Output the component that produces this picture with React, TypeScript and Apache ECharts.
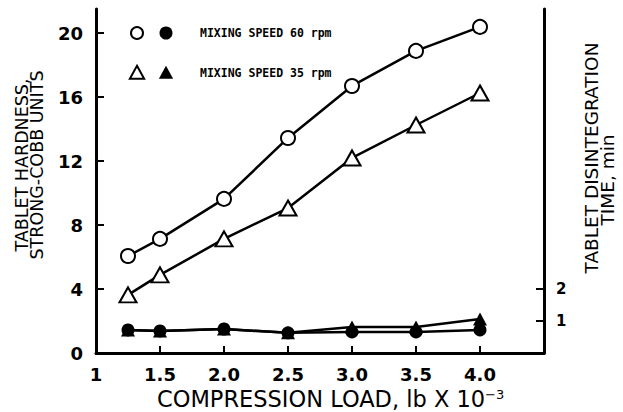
import React, { useEffect, useRef } from "react";
import * as echarts from "echarts";

const loads = [1.25, 1.5, 2.0, 2.5, 3.0, 3.5, 4.0];
const hardness60 = [6.06, 7.13, 9.63, 13.44, 16.69, 18.88, 20.38];
const hardness35 = [3.63, 4.88, 7.13, 9.06, 12.19, 14.25, 16.25];
const disint60 = [0.72, 0.69, 0.75, 0.63, 0.66, 0.66, 0.72];
const disint35 = [0.72, 0.69, 0.75, 0.63, 0.81, 0.81, 1.06];
const xLabelValues = [1, 1.5, 2.0, 2.5, 3.0, 3.5, 4.0];
const xTickValues = [1.5, 2.0, 2.5, 3.0, 3.5, 4.0];
const leftLabelValues = [0, 4, 8, 12, 16, 20];
const leftTickValues = [4, 8, 12, 16, 20];
const rightValues = [1, 2];

const pair = (xs: number[], ys: number[]) => xs.map((x, i) => [x, ys[i]]);

export default function App() {
  const ref = useRef<HTMLDivElement>(null);
  useEffect(() => {
    if (!ref.current) return;
    const chart = echarts.init(ref.current, null, { renderer: "svg" });
    const tickFont = {
      fontFamily: "DejaVu Sans",
      fontWeight: "bold" as const,
      fontSize: 18,
      color: "#000",
    };
    const leftTitleFont = "17.5px 'DejaVu Sans'";
    const rightTitleFont = "18.5px 'DejaVu Sans'";
    const legendFont = "bold 11.5px 'DejaVu Sans Mono'";
    const tri = (cx: number, cy: number, s: number) => [
      [cx, cy - s * 0.55],
      [cx + s * 0.55, cy + s * 0.45],
      [cx - s * 0.55, cy + s * 0.45],
    ];
    chart.setOption({
      animation: false,
      backgroundColor: "#fff",
      grid: {
        left: 96,
        right: 79,
        top: 9,
        bottom: 59,
        containLabel: false,
        outerBoundsMode: "none",
      },
      xAxis: {
        type: "value",
        min: 1,
        max: 4.5,
        interval: 0.5,
        axisLine: { lineStyle: { color: "#000", width: 3 } },
        axisTick: {
          inside: true,
          length: 7,
          lineStyle: { color: "#000", width: 2 },
          customValues: xTickValues,
        },
        axisLabel: {
          ...tickFont,
          margin: 12,
          customValues: xLabelValues,
          formatter: (v: number) => (v === 1 ? "1" : v.toFixed(1)),
        },
        splitLine: { show: false },
      },
      yAxis: [
        {
          type: "value",
          position: "left",
          min: 0,
          max: 21.5,
          interval: 4,
          axisLine: { show: true, lineStyle: { color: "#000", width: 3 } },
          axisTick: {
            show: true,
            inside: true,
            length: 8,
            lineStyle: { color: "#000", width: 2 },
            customValues: leftTickValues,
          },
          axisLabel: {
            ...tickFont,
            margin: 13,
            customValues: leftLabelValues,
          },
          splitLine: { show: false },
        },
        {
          type: "value",
          position: "right",
          min: 0,
          max: 10.75,
          interval: 1,
          axisLine: { show: true, lineStyle: { color: "#000", width: 3 } },
          axisTick: {
            show: true,
            inside: true,
            length: 8,
            lineStyle: { color: "#000", width: 2 },
            customValues: rightValues,
          },
          axisLabel: {
            ...tickFont,
            fontSize: 15,
            margin: 12,
            customValues: rightValues,
          },
          splitLine: { show: false },
        },
      ],
      graphic: [
        {
          type: "text",
          x: 22,
          y: 165,
          rotation: Math.PI / 2,
          style: { text: "TABLET HARDNESS,", font: leftTitleFont, fill: "#000", align: "center", verticalAlign: "middle" },
        },
        {
          type: "text",
          x: 37,
          y: 165,
          rotation: Math.PI / 2,
          style: { text: "STRONG-COBB UNITS", font: leftTitleFont, fill: "#000", align: "center", verticalAlign: "middle" },
        },
        {
          type: "text",
          x: 591,
          y: 158,
          rotation: Math.PI / 2,
          style: { text: "TABLET DISINTEGRATION", font: rightTitleFont, fill: "#000", align: "center", verticalAlign: "middle" },
        },
        {
          type: "text",
          x: 607,
          y: 180,
          rotation: Math.PI / 2,
          style: { text: "TIME, min", font: rightTitleFont, fill: "#000", align: "center", verticalAlign: "middle" },
        },
        {
          type: "text",
          x: 157,
          y: 399,
          style: {
            text: "{a|COMPRESSION LOAD, lb X 10}{s|−3}",
            align: "left",
            verticalAlign: "middle",
            rich: {
              a: { fontSize: 22.5, fontFamily: "DejaVu Sans", fill: "#000" },
              s: { fontSize: 13, fontFamily: "DejaVu Sans", fill: "#000", verticalAlign: "top" },
            },
          },
        },
        { type: "circle", shape: { cx: 137, cy: 33, r: 6 }, style: { fill: "#fff", stroke: "#000", lineWidth: 2 } },
        { type: "circle", shape: { cx: 166, cy: 33, r: 6.5 }, style: { fill: "#000" } },
        { type: "text", x: 200, y: 33, style: { text: "MIXING SPEED 60 rpm", font: legendFont, fill: "#000", verticalAlign: "middle" } },
        { type: "polygon", shape: { points: tri(137, 73, 13) }, style: { fill: "#fff", stroke: "#000", lineWidth: 2 } },
        { type: "polygon", shape: { points: tri(166, 73, 13) }, style: { fill: "#000" } },
        { type: "text", x: 200, y: 73, style: { text: "MIXING SPEED 35 rpm", font: legendFont, fill: "#000", verticalAlign: "middle" } },
      ],
      series: [
        {
          name: "Hardness 60 rpm",
          type: "line",
          yAxisIndex: 0,
          data: pair(loads, hardness60),
          symbol: "circle",
          symbolSize: 14,
          lineStyle: { color: "#000", width: 2.5 },
          itemStyle: { color: "#fff", borderColor: "#000", borderWidth: 2 },
          z: 3,
        },
        {
          name: "Hardness 35 rpm",
          type: "line",
          yAxisIndex: 0,
          data: pair(loads, hardness35),
          symbol: "triangle",
          symbolSize: [17, 15],
          lineStyle: { color: "#000", width: 2.5 },
          itemStyle: { color: "#fff", borderColor: "#000", borderWidth: 2 },
          z: 3,
        },
        {
          name: "Disintegration 35 rpm",
          type: "line",
          yAxisIndex: 1,
          data: pair(loads, disint35),
          symbol: "triangle",
          symbolSize: [14, 13],
          lineStyle: { color: "#000", width: 2.5 },
          itemStyle: { color: "#000" },
          z: 2,
        },
        {
          name: "Disintegration 60 rpm",
          type: "line",
          yAxisIndex: 1,
          data: pair(loads, disint60),
          symbol: "circle",
          symbolSize: 13,
          lineStyle: { color: "#000", width: 2.5 },
          itemStyle: { color: "#000" },
          z: 2,
        },
      ],
    });
    return () => chart.dispose();
  }, []);
  return (
    <div
      ref={ref}
      style={{ position: "absolute", left: 0, top: 0, width: 623, height: 412 }}
    />
  );
}
